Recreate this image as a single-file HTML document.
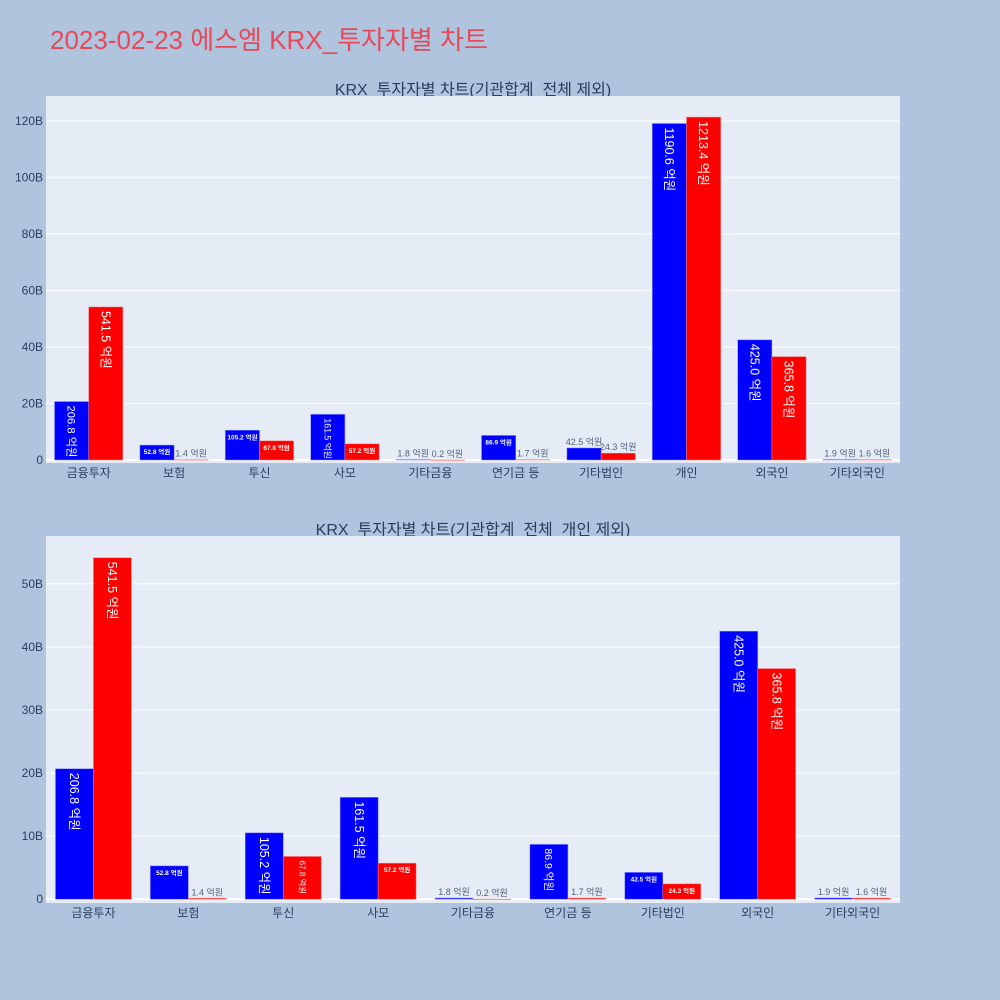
<!DOCTYPE html>
<html><head><meta charset="utf-8">
<style>
html,body{margin:0;padding:0;background:#b0c4de;}
svg{display:block;font-family:"Liberation Sans","Noto Sans CJK KR",sans-serif;}
</style></head>
<body>
<svg id="chart" width="1000" height="1000" xmlns="http://www.w3.org/2000/svg">
<rect width="1000" height="1000" fill="#b0c4de"/>
<text x="50" y="49" font-size="26" fill="#e8485a">2023-02-23 에스엠 KRX_투자자별 차트</text>
<text x="473" y="95" font-size="16" fill="#2a3f5f" text-anchor="middle">KRX_투자자별 차트(기관합계_전체 제외)</text>
<text x="473" y="535" font-size="16" fill="#2a3f5f" text-anchor="middle">KRX_투자자별 차트(기관합계_전체_개인 제외)</text>
<g id="top"></g>
<g id="bottom"></g>
</svg>
<script>
const categoriesTop = ["금융투자","보험","투신","사모","기타금융","연기금 등","기타법인","개인","외국인","기타외국인"];
const buyTop = [206.8,52.8,105.2,161.5,1.8,86.9,42.5,1190.6,425.0,1.9];
const sellTop = [541.5,1.4,67.8,57.2,0.2,1.7,24.3,1213.4,365.8,1.6];
const ticksTop = [0,20,40,60,80,100,120];
const categoriesBottom = ["금융투자","보험","투신","사모","기타금융","연기금 등","기타법인","외국인","기타외국인"];
const buyBottom = [206.8,52.8,105.2,161.5,1.8,86.9,42.5,425.0,1.9];
const sellBottom = [541.5,1.4,67.8,57.2,0.2,1.7,24.3,365.8,1.6];
const ticksBottom = [0,10,20,30,40,50];

const NS="http://www.w3.org/2000/svg";
function mk(tag,attrs,parent){const e=document.createElementNS(NS,tag);for(const k in attrs)e.setAttribute(k,attrs[k]);parent.appendChild(e);return e;}

function draw(gid,cats,buy,sell,ticks,cfg){
  const g=document.getElementById(gid);
  const {x0,x1,y0,y1,ymin,ymax}=cfg;
  const ys=v=>y1-(v-ymin)/(ymax-ymin)*(y1-y0);
  const band=(x1-x0)/cats.length;
  const bw=band*0.4;
  const bg=mk('rect',{x:x0,y:y0,width:x1-x0,height:y1-y0,fill:'#e5ecf6'},g);
  
  
  ticks.forEach(t=>{
    const y=ys(t*10);
    const ln=mk('line',{x1:x0,x2:x1,y1:y,y2:y,stroke:'#fff','stroke-width':t===0?2:1},g);
    
    
    const tx=mk('text',{x:x0-3,y:y+4,'font-size':12,fill:'#2a3f5f','text-anchor':'end'},g);
    
    
    tx.textContent=t===0?'0':t+'B';
  });
  cats.forEach((c,i)=>{
    const cx=x0+band*(i+0.5);
    const lb=mk('text',{x:cx,y:y1+14,'font-size':12,fill:'#2a3f5f','text-anchor':'middle'},g);
    
    
    lb.textContent=c;
    [[buy[i],'#0000ff',cx-bw],[sell[i],'#ff0000',cx]].forEach(([v,col,bx],j)=>{
      const yt=ys(v),yb=ys(0),h=yb-yt;
      const r=mk('rect',{x:bx,y:yt,width:bw,height:Math.max(h,0.5),fill:col,stroke:j?'#ff8080':'#8080ff','stroke-width':0.5},g);
      
      
      const label=v.toFixed(1)+' 억원';
      let t;
      if(h<14){
        t=mk('text',{x:bx+bw/2,y:yt-3,'font-size':9,fill:'#2a3f5f','fill-opacity':0.8,'text-anchor':'middle'},g);
      }else if(h<40){
        t=mk('text',{x:bx+bw/2,y:yt+9,'font-size':6.5,'font-weight':'bold',fill:'#fff','text-anchor':'middle'},g);
      }else{
        const fs=Math.max(8,Math.min(12.5,h/5.2));
        t=mk('text',{x:0,y:0,'font-size':fs,fill:'#fff','text-anchor':'start',transform:`translate(${bx+bw/2-fs*0.35},${yt+4}) rotate(90)`},g);
      }
      
      
      t.textContent=label;
    });
  });
}
draw('top',categoriesTop,buyTop,sellTop,ticksTop,{x0:46,x1:900,y0:96,y1:463,ymin:-10.6,ymax:1288});
draw('bottom',categoriesBottom,buyBottom,sellBottom,ticksBottom,{x0:46,x1:900,y0:536,y1:903,ymin:-6,ymax:576});
</script>
</body></html>
